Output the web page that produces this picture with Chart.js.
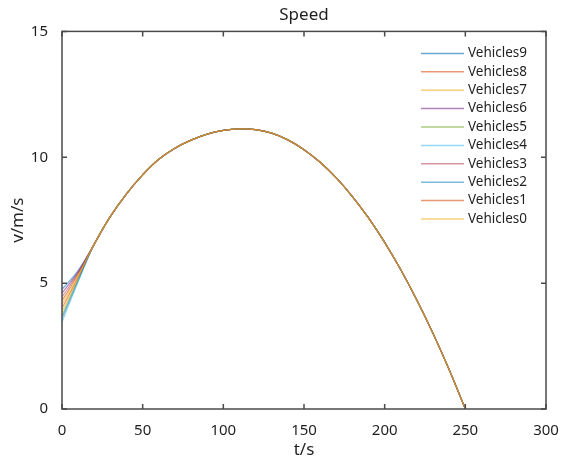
<!DOCTYPE html>
<html>
<head>
<meta charset="utf-8">
<script src="https://cdn.jsdelivr.net/npm/chart.js@4"></script>
<style>
  body { margin: 0; background: #fff; }
  #wrap { width: 568px; height: 460px; position: relative; }
</style>
</head>
<body>
<div id="wrap"><canvas id="speed-graph"></canvas></div>
<script>
// sample times (s)
const times = [0, 10, 20, 30, 40, 50, 60, 70, 80, 90, 100, 110, 120, 130, 140, 150, 160, 170, 180, 190, 200, 210, 220, 230, 240, 250]
// shared speed once the vehicles have merged (t >= 20)
const sharedSpeed = [6.55, 7.65, 8.55, 9.3, 9.92, 10.36, 10.68, 10.92, 11.07, 11.13, 11.1, 10.96, 10.69, 10.3, 9.8, 9.18, 8.44, 7.59, 6.62, 5.53, 4.32, 3.0, 1.56, 0]

// per vehicle, index = vehicle number
const vehicles = ['Vehicles0', 'Vehicles1', 'Vehicles2', 'Vehicles3', 'Vehicles4', 'Vehicles5', 'Vehicles6', 'Vehicles7', 'Vehicles8', 'Vehicles9']
const speedT0 = [4.15, 4.0, 3.6, 4.45, 3.45, 3.7, 4.6, 3.85, 4.3, 4.75]
const speedT10 = [5.3, 5.25, 5.1, 5.4, 5.05, 5.15, 5.45, 5.2, 5.35, 5.5]
const colors = [
    'rgba(237, 177, 32, 0.6)',
    'rgba(217, 83, 25, 0.6)',
    'rgba(0, 114, 189, 0.5)',
    'rgba(162, 20, 47, 0.45)',
    'rgba(77, 190, 238, 0.6)',
    'rgba(119, 172, 48, 0.6)',
    'rgba(126, 47, 142, 0.6)',
    'rgba(237, 177, 32, 0.6)',
    'rgba(217, 83, 25, 0.6)',
    'rgba(0, 114, 189, 0.6)'
]

const xTicks = [0, 50, 100, 150, 200, 250, 300]
const yTicks = [0, 5, 10, 15]

Chart.defaults.font.family = "'Noto Sans', 'Open Sans', sans-serif"
Chart.defaults.color = '#1f1f1f'

function vehicleData(i) {
    const ys = [speedT0[i], speedT10[i]].concat(sharedSpeed)
    return times.map((t, k) => ({ x: t, y: ys[k] }))
}

// box round the axes with inward ticks, like matlab
const axesBox = {
    id: 'axesBox',
    afterDatasetsDraw(chart) {
        const ctx = chart.ctx
        const a = chart.chartArea
        const xs = chart.scales.x, ys = chart.scales.y
        ctx.save()
        ctx.strokeStyle = '#4a4a4a'
        ctx.lineWidth = 1.5
        ctx.strokeRect(a.left, a.top, a.right - a.left, a.bottom - a.top)
        ctx.beginPath()
        xTicks.forEach(v => {
            const px = xs.getPixelForValue(v)
            ctx.moveTo(px, a.bottom); ctx.lineTo(px, a.bottom - 5)
            ctx.moveTo(px, a.top); ctx.lineTo(px, a.top + 5)
        })
        yTicks.forEach(v => {
            const py = ys.getPixelForValue(v)
            ctx.moveTo(a.left, py); ctx.lineTo(a.left + 5, py)
            ctx.moveTo(a.right, py); ctx.lineTo(a.right - 5, py)
        })
        ctx.stroke()
        ctx.restore()
    }
}

// legend inside the top right corner, Vehicles9 first
const innerLegend = {
    id: 'innerLegend',
    afterDraw(chart) {
        const ctx = chart.ctx
        const a = chart.chartArea
        ctx.save()
        ctx.font = "13.5px 'Noto Sans', 'Open Sans', sans-serif"
        ctx.textBaseline = 'middle'
        ctx.fillStyle = '#1f1f1f'
        for (let n = 0; n < vehicles.length; n++) {
            const i = vehicles.length - 1 - n
            const y = a.top + 22 + n * 18.4
            ctx.strokeStyle = colors[i]
            ctx.lineWidth = 1.5
            ctx.beginPath()
            ctx.moveTo(a.right - 125, y)
            ctx.lineTo(a.right - 82, y)
            ctx.stroke()
            ctx.fillText(vehicles[i], a.right - 78, y)
        }
        ctx.restore()
    }
}

var ctx = document.getElementById('speed-graph').getContext('2d')

var lineChart = new Chart(ctx, {
type: 'line',
data: {
    datasets: vehicles.map((name, i) => ({
        label: name,
        data: vehicleData(i),
        borderColor: colors[i],
        borderWidth: 1.2,
        pointRadius: 0,
        fill: false,
        tension: 0.4
    }))
},
options: {
    responsive: true,
    maintainAspectRatio: false,
    animation: false,
    layout: {
        padding: { left: 0, right: 22, top: 0, bottom: 0 }
    },
    scales: {
        x: {
            type: 'linear',
            min: 0,
            max: 300,
            grid: { display: false },
            border: { display: false },
            ticks: {
                stepSize: 50,
                padding: 5,
                maxRotation: 0,
                font: { size: 15 }
            },
            title: {
                display: true,
                text: 't/s',
                font: { size: 17 },
                padding: { top: 0, bottom: 0 }
            },
            afterFit(scale) { scale.height = 51 }
        },
        y: {
            min: 0,
            max: 15,
            grid: { display: false },
            border: { display: false },
            ticks: {
                stepSize: 5,
                padding: 6,
                font: { size: 15 }
            },
            title: {
                display: true,
                text: 'v/m/s',
                font: { size: 17 },
                padding: { top: 8, bottom: 0 }
            },
            afterFit(scale) { scale.width = 62 }
        }
    },
    plugins: {
        legend: { display: false },
        tooltip: { enabled: false },
        title: {
            display: true,
            text: 'Speed',
            fullSize: false,
            font: { size: 17, weight: 'normal' },
            padding: { top: 5, bottom: 6 }
        }
    }
},
plugins: [axesBox, innerLegend]
});
</script>
</body>
</html>
